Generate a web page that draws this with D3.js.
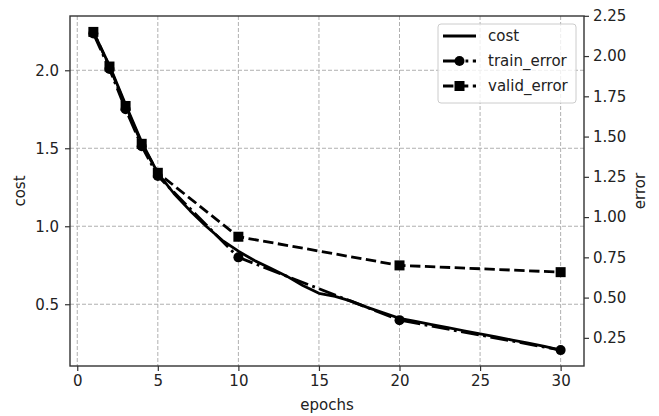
<!DOCTYPE html>
<html><head><meta charset="utf-8">
<script src="https://cdn.jsdelivr.net/npm/d3@7"></script>
<style>
body{margin:0;background:#fff;}
text{font-family:"DejaVu Sans",sans-serif;}
</style></head>
<body><svg id="chart" width="659" height="416"></svg>
<script>
const costEpochs = d3.range(1, 31);
const costValues = [2.246, 2.03, 1.78, 1.54, 1.34, 1.21, 1.10, 1.00, 0.91, 0.84,
  0.78, 0.73, 0.68, 0.62, 0.57, 0.55, 0.52, 0.48, 0.445, 0.41,
  0.39, 0.37, 0.35, 0.33, 0.31, 0.29, 0.27, 0.25, 0.23, 0.206];
const errEpochs = [1, 2, 3, 4, 5, 10, 20, 30];
const trainError = [2.14, 1.92, 1.67, 1.44, 1.255, 0.75, 0.36, 0.174];
const validError = [2.15, 1.935, 1.69, 1.455, 1.275, 0.878, 0.70, 0.658];
const xTicks = [0, 5, 10, 15, 20, 25, 30];
const costTicks = [0.5, 1.0, 1.5, 2.0];
const errTicks = [0.25, 0.5, 0.75, 1.0, 1.25, 1.5, 1.75, 2.0, 2.25];
const labels = {x: "epochs", yLeft: "cost", yRight: "error"};
const seriesNames = ["cost", "train_error", "valid_error"];

const L = 70, R = 584, T = 16, B = 366;
const FS = 15;
function padExtent(vals) {
  const [a, b] = d3.extent(vals); const p = (b - a) * 0.05; return [a - p, b + p];
}
const x = d3.scaleLinear().domain(padExtent(costEpochs.concat(errEpochs))).range([L, R]);
const yC = d3.scaleLinear().domain(padExtent(costValues)).range([B, T]);
const yE = d3.scaleLinear().domain(padExtent(trainError.concat(validError))).range([B, T]);

const svg = d3.select("#chart");
const lw = 2.8;
const gridColor = "#b0b0b0";

// grid
const grid = svg.append("g");
grid.selectAll(".gx").data(xTicks).enter().append("line")
  .attr("x1", d => x(d)).attr("x2", d => x(d)).attr("y1", T).attr("y2", B)
  .attr("stroke", gridColor).attr("stroke-width", 1).attr("stroke-dasharray", "4,2");
grid.selectAll(".gy").data(costTicks).enter().append("line")
  .attr("x1", L).attr("x2", R).attr("y1", d => yC(d)).attr("y2", d => yC(d))
  .attr("stroke", gridColor).attr("stroke-width", 1).attr("stroke-dasharray", "4,2");

// cost line
svg.append("path").datum(costEpochs.map((e, i) => [e, costValues[i]]))
  .attr("fill", "none").attr("stroke", "#000").attr("stroke-width", lw)
  .attr("stroke-linejoin", "round")
  .attr("d", d3.line().x(d => x(d[0])).y(d => yC(d[1])));

// train error
const trainPts = errEpochs.map((e, i) => [e, trainError[i]]);
svg.append("path").datum(trainPts)
  .attr("fill", "none").attr("stroke", "#000").attr("stroke-width", lw)
  .attr("stroke-dasharray", "18,4.5,2.8,4.5")
  .attr("d", d3.line().x(d => x(d[0])).y(d => yE(d[1])));
svg.selectAll(".tc").data(trainPts).enter().append("circle")
  .attr("cx", d => x(d[0])).attr("cy", d => yE(d[1])).attr("r", 5).attr("fill", "#000");

// valid error
const validPts = errEpochs.map((e, i) => [e, validError[i]]);
svg.append("path").datum(validPts)
  .attr("fill", "none").attr("stroke", "#000").attr("stroke-width", lw)
  .attr("stroke-dasharray", "10.4,4.5")
  .attr("d", d3.line().x(d => x(d[0])).y(d => yE(d[1])));
svg.selectAll(".vs").data(validPts).enter().append("rect")
  .attr("x", d => x(d[0]) - 5).attr("y", d => yE(d[1]) - 5)
  .attr("width", 10).attr("height", 10).attr("fill", "#000");

// axes
const axColor = "#333";
const xAxis = svg.append("g").attr("transform", `translate(0,${B})`)
  .call(d3.axisBottom(x).tickValues(xTicks).tickFormat(d3.format("d")).tickSize(5).tickPadding(4));
const lAxis = svg.append("g").attr("transform", `translate(${L},0)`)
  .call(d3.axisLeft(yC).tickValues(costTicks).tickFormat(d3.format(".1f")).tickSize(5).tickPadding(6));
const rAxis = svg.append("g").attr("transform", `translate(${R},0)`)
  .call(d3.axisRight(yE).tickValues(errTicks).tickFormat(d3.format(".2f")).tickSize(5).tickPadding(4));
[xAxis, lAxis, rAxis].forEach(g => {
  g.select(".domain").remove();
  g.selectAll("line").attr("stroke", axColor).attr("stroke-width", 1.2);
  g.selectAll("text").attr("font-size", FS).attr("fill", "#222")
    .attr("font-family", "DejaVu Sans");
});
// spines
svg.append("rect").attr("x", L).attr("y", T).attr("width", R - L).attr("height", B - T)
  .attr("fill", "none").attr("stroke", axColor).attr("stroke-width", 1.4);

// labels
svg.append("text").attr("x", (L + R) / 2).attr("y", 410).attr("text-anchor", "middle")
  .attr("font-size", FS).attr("fill", "#222").text(labels.x);
svg.append("text").attr("transform", `translate(25,${(T + B) / 2}) rotate(-90)`)
  .attr("text-anchor", "middle").attr("font-size", FS).attr("fill", "#222").text(labels.yLeft);
svg.append("text").attr("transform", `translate(645,${(T + B) / 2}) rotate(-90)`)
  .attr("text-anchor", "middle").attr("font-size", FS).attr("fill", "#222").text(labels.yRight);

// legend
const lg = svg.append("g");
lg.append("rect").attr("x", 438).attr("y", 24).attr("width", 138).attr("height", 79)
  .attr("rx", 3).attr("fill", "#fff").attr("fill-opacity", 0.8)
  .attr("stroke", "#ccc").attr("stroke-width", 1);
const styles = [
  {dash: null, marker: null},
  {dash: "18,4.5,2.8,4.5", marker: "circle"},
  {dash: "10.4,4.5", marker: "square"}
];
seriesNames.forEach((name, i) => {
  const yy = 36 + i * 25;
  const ln = lg.append("line").attr("x1", 443).attr("x2", 476).attr("y1", yy).attr("y2", yy)
    .attr("stroke", "#000").attr("stroke-width", lw);
  if (styles[i].dash) ln.attr("stroke-dasharray", styles[i].dash);
  if (styles[i].marker === "circle")
    lg.append("circle").attr("cx", 459.5).attr("cy", yy).attr("r", 5).attr("fill", "#000");
  if (styles[i].marker === "square")
    lg.append("rect").attr("x", 454.5).attr("y", yy - 5).attr("width", 10).attr("height", 10).attr("fill", "#000");
  lg.append("text").attr("x", 488).attr("y", yy).attr("dy", "0.35em")
    .attr("font-size", FS).attr("fill", "#222").text(name);
});
</script></body></html>
